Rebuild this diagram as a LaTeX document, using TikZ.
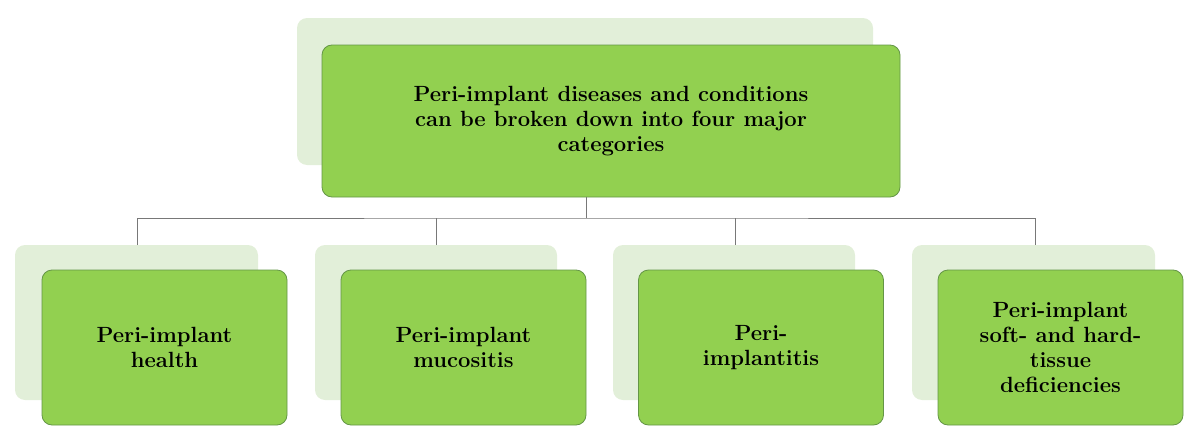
\documentclass[tikz,border=0pt]{standalone}
\usetikzlibrary{positioning}
\definecolor{leafgreen}{RGB}{146,208,80}
\definecolor{leafedge}{RGB}{100,150,70}
\definecolor{palegreen}{RGB}{226,239,217}
\definecolor{linkgrey}{RGB}{120,120,120}
\tikzset{
  backpanel/.style={fill=palegreen,draw=none,rounded corners=10pt},
  catbox/.style={fill=leafgreen,draw=leafedge,line width=0.8pt,rounded corners=10pt,
    minimum width=245pt,minimum height=155pt,align=center,
    font=\fontsize{22}{25}\selectfont\bfseries},
  link/.style={draw=linkgrey,line width=1pt}
}
\begin{document}
\begin{tikzpicture}[x=1pt,y=-1pt]
	\useasboundingbox (0,0) rectangle (1200,447);
	% shadow panels
	\fill[backpanel] (297,18) rectangle (873,165);
	\fill[backpanel] (15,245) rectangle (258,400);
	\fill[backpanel] (315,245) rectangle (557,400);
	\fill[backpanel] (613,245) rectangle (855,400);
	\fill[backpanel] (912,245) rectangle (1155,400);
	% panel tops, where the links end
	\coordinate (p1) at (137,245);
	\coordinate (p2) at (436,245);
	\coordinate (p3) at (735,245);
	\coordinate (p4) at (1035,245);
	% main box
	\node[catbox,minimum width=578pt,minimum height=152pt] (root) at (611,121)
		{Peri-implant diseases and conditions\\can be broken down into four major\\categories};
	\node[catbox] (health) at (164.5,347.5) {Peri-implant\\health};
	\node[catbox] (mucos) at (463.5,347.5) {Peri-implant\\mucositis};
	\node[catbox] (implant) at (761,347.5) {Peri-\\implantitis};
	\node[catbox] (defic) at (1060.5,347.5) {Peri-implant\\soft- and hard-\\tissue\\deficiencies};
	% connectors
	\coordinate (hub) at (586,218);
	\draw[link] (root.south -| hub) -- (hub);
	\draw[link] (p1) |- (hub) -| (p4);
	\draw[link] (p2) -- (p2 |- hub);
	\draw[link] (p3) -- (p3 |- hub);
\end{tikzpicture}
\end{document}
